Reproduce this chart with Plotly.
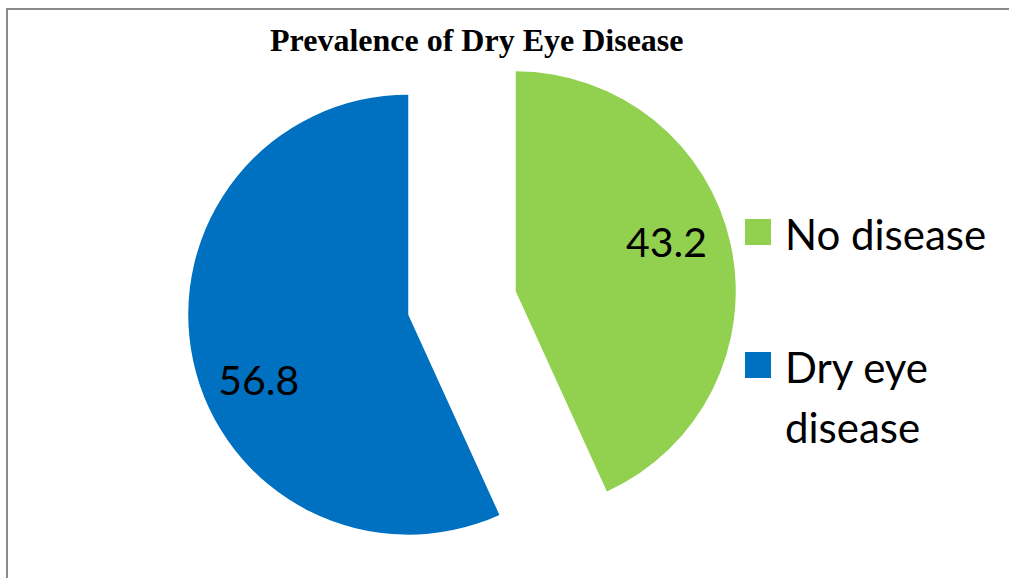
import plotly.graph_objects as go

# Data
labels = ["No disease", "Dry eye disease"]
values = [43.2, 56.8]
colors = ["#92D050", "#0070C0"]
title_text = "Prevalence of Dry Eye Disease"

W, H = 1009, 578

# Label placement padding (non-breaking spaces / invisible lines) to mimic original label spots
NB = "\u00a0"
GHOST = '<span style="color:rgba(0,0,0,0)">.</span>'
GHOST_BIG = '<span style="color:rgba(0,0,0,0);font-size:70px">.</span>'
text_templates = [
    NB * 8 + "%{value}<br>" + GHOST,
    GHOST_BIG + "<br>%{value}" + NB * 8,
]

fig = go.Figure()
fig.add_trace(go.Pie(
    labels=labels,
    values=values,
    sort=False,
    direction="clockwise",
    rotation=0,
    pull=[0.25, 0.25],
    marker=dict(colors=colors, line=dict(width=0)),
    texttemplate=text_templates,
    textposition="inside",
    insidetextorientation="horizontal",
    textfont=dict(family="Lato", size=41, color="black"),
    domain=dict(x=[187 / W, 737 / W], y=[0, 550 / H]),
    showlegend=False,
    hoverinfo="label+value",
))

shapes = [
    # chart border (right and bottom edges fall outside the picture)
    dict(type="rect", xref="paper", yref="paper",
         x0=7 / W, x1=1.05, y0=-0.05, y1=1 - 9 / H,
         line=dict(color="#8a8a8a", width=2), fillcolor="rgba(0,0,0,0)", layer="below"),
]

annotations = [
    dict(text="<b>" + title_text + "</b>", xref="paper", yref="paper",
         x=477 / W, y=1 - 40 / H, xanchor="center", yanchor="middle",
         showarrow=False, font=dict(family="Liberation Serif", size=32, color="black")),
]

# Custom legend (large swatches as in the original)
legend_rows = [232, 365]
for lab, col, yc in zip(labels, colors, legend_rows):
    shapes.append(dict(type="rect", xref="paper", yref="paper",
                       x0=745 / W, x1=771 / W, y0=1 - (yc + 13) / H, y1=1 - (yc - 13) / H,
                       fillcolor=col, line=dict(width=0)))
    words = lab.split(" ")
    if len(words) > 2:
        lines = [" ".join(words[:2]), " ".join(words[2:])]
    else:
        lines = [lab]
    for i, line in enumerate(lines):
        annotations.append(dict(text=line, xref="paper", yref="paper",
                                x=783 / W, y=1 - (yc + 2 + i * 60) / H,
                                xanchor="left", yanchor="middle", showarrow=False,
                                font=dict(family="Lato", size=42, color="black")))

fig.update_layout(
    width=W, height=H,
    margin=dict(l=0, r=0, t=0, b=0),
    paper_bgcolor="white",
    plot_bgcolor="white",
    shapes=shapes,
    annotations=annotations,
)

fig.write_html("out.html")
